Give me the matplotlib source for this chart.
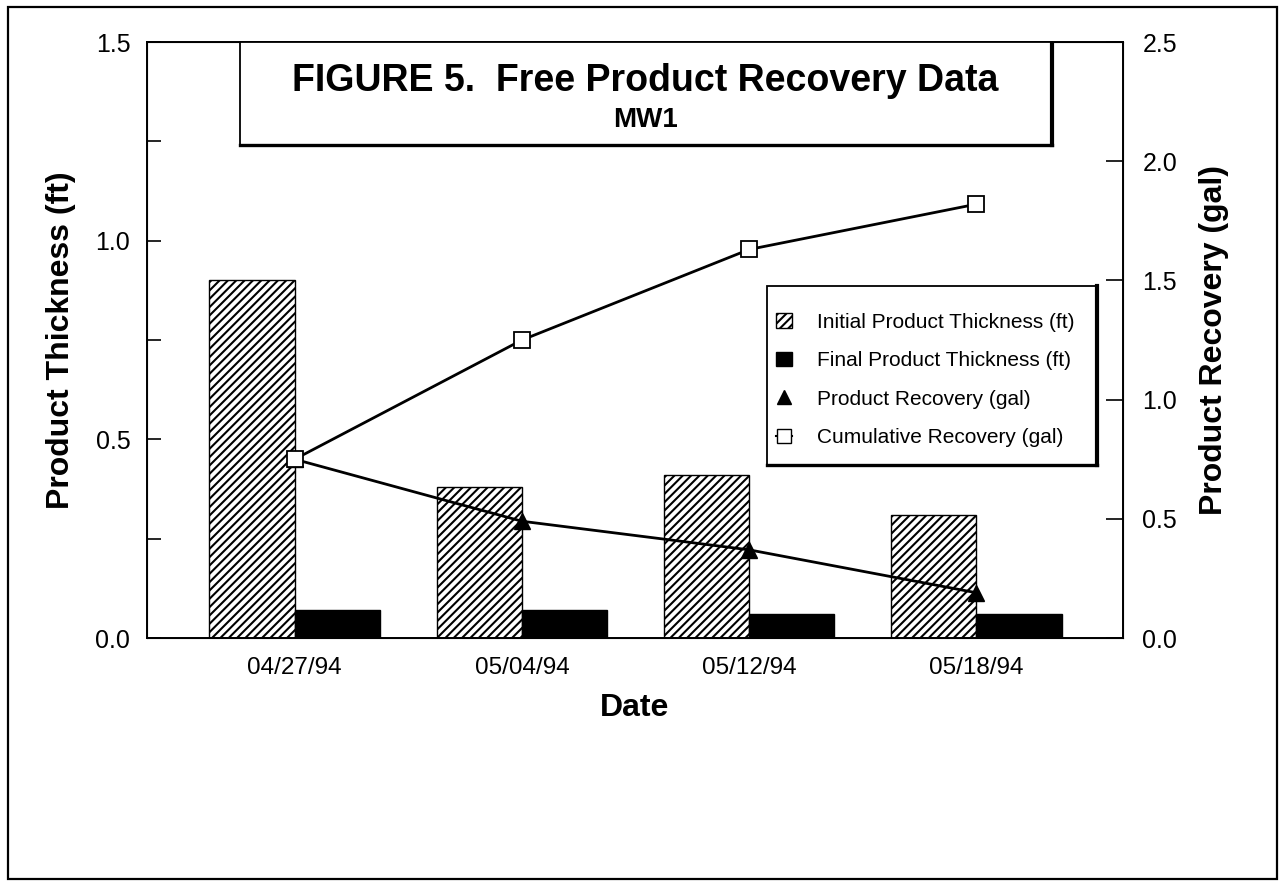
import matplotlib
matplotlib.use('Agg')
import matplotlib.pyplot as plt
from matplotlib.patches import Patch, Rectangle
from matplotlib.lines import Line2D
from matplotlib.ticker import MultipleLocator, FormatStrFormatter

plt.rcParams['font.family'] = ['Liberation Sans', 'DejaVu Sans']
plt.rcParams['hatch.linewidth'] = 1.5

dates = ['04/27/94', '05/04/94', '05/12/94', '05/18/94']
initial_thickness = [0.90, 0.38, 0.41, 0.31]
final_thickness = [0.07, 0.07, 0.06, 0.06]
recovery = [0.75, 0.49, 0.37, 0.19]
cumulative = [0.75, 1.25, 1.63, 1.82]

x = list(range(len(dates)))
width = 0.375

fig = plt.figure(figsize=(12.8, 8.82), dpi=100)
fig.patch.set_facecolor('white')

# outer frame round the whole page
fig.patches.append(Rectangle((0.0063, 0.0034), 0.9914, 0.9887, transform=fig.transFigure,
                             fill=False, edgecolor='black', linewidth=1.6))

ax = fig.add_axes([0.1148, 0.2766, 0.7625, 0.6757])
ax.bar([i - width / 2 for i in x], initial_thickness, width, color='white',
       edgecolor='black', hatch='////', linewidth=1.0)
ax.bar([i + width / 2 for i in x], final_thickness, width, color='black',
       edgecolor='black', linewidth=1.0)

ax.set_xlim(-0.65, 3.645)
ax.set_ylim(0, 1.5)
ax.yaxis.set_major_locator(MultipleLocator(0.5))
ax.yaxis.set_minor_locator(MultipleLocator(0.25))
ax.yaxis.set_major_formatter(FormatStrFormatter('%.1f'))
ax.tick_params(axis='y', which='both', direction='in', length=10, width=1.2,
               labelsize=18, pad=12)
ax.set_xticks(x)
ax.set_xticklabels(dates)
ax.tick_params(axis='x', length=0, labelsize=17.5, pad=14)
ax.set_xlabel('Date', fontsize=23, fontweight='bold', labelpad=10)
ax.set_ylabel('Product Thickness (ft)', fontsize=23, fontweight='bold', labelpad=14)
for s in ax.spines.values():
    s.set_linewidth(1.4)

ax2 = ax.twinx()
ax2.plot(x, recovery, color='black', linewidth=2.0, marker='^', markersize=11,
         markerfacecolor='black', markeredgecolor='black')
ax2.plot(x, cumulative, color='black', linewidth=2.0, marker='s', markersize=11,
         markerfacecolor='white', markeredgecolor='black', markeredgewidth=1.3)
ax2.set_ylim(0, 2.5)
ax2.yaxis.set_major_locator(MultipleLocator(0.5))
ax2.yaxis.set_major_formatter(FormatStrFormatter('%.1f'))
ax2.tick_params(axis='y', direction='in', length=12, width=1.2, labelsize=18, pad=14)
ax2.set_ylabel('Product Recovery (gal)', fontsize=23, fontweight='bold', labelpad=16)


def boxed(x0, y0, w, h):
    # plain box with a heavier right and bottom edge
    ax2.add_patch(Rectangle((x0, y0), w, h, transform=ax2.transAxes, facecolor='white',
                            edgecolor='black', linewidth=1.3, clip_on=False, zorder=4))
    ax2.add_line(Line2D([x0 + w, x0 + w], [y0, y0 + h], transform=ax2.transAxes,
                        color='black', linewidth=3.0, zorder=4))
    ax2.add_line(Line2D([x0, x0 + w], [y0, y0], transform=ax2.transAxes,
                        color='black', linewidth=2.4, zorder=4))


# title box sitting under the top spine
boxed(0.095, 0.827, 0.832, 0.173)
ax2.text(0.511, 0.935, 'FIGURE 5.  Free Product Recovery Data', transform=ax2.transAxes,
         ha='center', va='center', fontsize=27, fontweight='bold', zorder=5)
ax2.text(0.511, 0.87, 'MW1', transform=ax2.transAxes,
         ha='center', va='center', fontsize=20, fontweight='bold', zorder=5)

# legend box
boxed(0.635, 0.290, 0.338, 0.301)

handles = [
    Patch(facecolor='white', edgecolor='black', hatch='////'),
    Patch(facecolor='black', edgecolor='black'),
    Line2D([], [], color='black', linestyle='none', marker='^', markersize=10),
    Line2D([], [], color='black', linewidth=1.5, marker='s', markersize=10,
           markerfacecolor='white'),
]
labels = ['Initial Product Thickness (ft)', 'Final Product Thickness (ft)',
          'Product Recovery (gal)', 'Cumulative Recovery (gal)']
leg = ax2.legend(handles, labels, loc='center left', bbox_to_anchor=(0.635, 0.4330),
                 fontsize=15, frameon=False,
                 handlelength=0.8, handleheight=0.7, handletextpad=1.2,
                 labelspacing=0.93, borderpad=0.43, borderaxespad=0)
leg.set_zorder(6)

plt.savefig('out.png', dpi=100, facecolor='white')
